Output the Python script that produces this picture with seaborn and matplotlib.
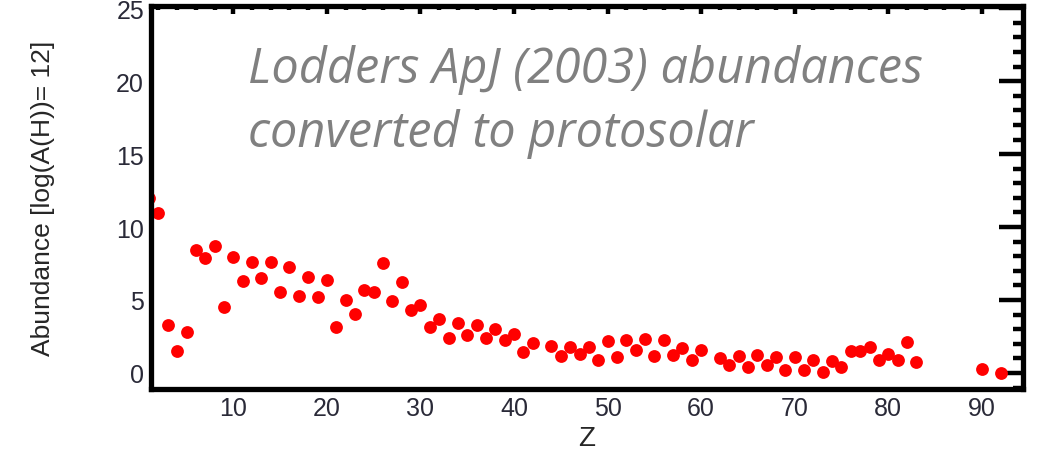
import numpy as np
import pandas as pd
import matplotlib
matplotlib.use("Agg")
import matplotlib.pyplot as plt
from matplotlib.ticker import MultipleLocator
import seaborn as sns

# Protosolar abundances (log eps, H = 12)
z = [1, 2, 3, 4, 5, 6, 7, 8, 9, 10,
     11, 12, 13, 14, 15, 16, 17, 18, 19, 20,
     21, 22, 23, 24, 25, 26, 27, 28, 29, 30,
     31, 32, 33, 34, 35, 36, 37, 38, 39, 40,
     41, 42, 44, 45, 46, 47, 48, 49, 50,
     51, 52, 53, 54, 55, 56, 57, 58, 59, 60,
     62, 63, 64, 65, 66, 67, 68, 69, 70,
     71, 72, 73, 74, 75, 76, 77, 78, 79, 80,
     81, 82, 83, 90, 92]
abundance = [12.0, 10.94, 3.31, 1.49, 2.83, 8.42, 7.85, 8.72, 4.50, 7.92,
             6.32, 7.58, 6.50, 7.58, 5.53, 7.24, 5.30, 6.60, 5.18, 6.37,
             3.13, 5.00, 4.04, 5.71, 5.53, 7.51, 4.95, 6.25, 4.32, 4.68,
             3.17, 3.70, 2.37, 3.40, 2.63, 3.31, 2.40, 3.01, 2.26, 2.67,
             1.46, 2.03, 1.87, 1.14, 1.80, 1.30, 1.80, 0.89, 2.17,
             1.12, 2.28, 1.60, 2.33, 1.19, 2.26, 1.23, 1.69, 0.89, 1.58,
             1.00, 0.57, 1.19, 0.39, 1.23, 0.57, 1.07, 0.23, 1.07,
             0.23, 0.89, 0.05, 0.80, 0.39, 1.49, 1.49, 1.76, 0.91, 1.30,
             0.91, 2.10, 0.77, 0.25, 0.00]

note_lines = ["Lodders ApJ (2003) abundances", "converted to protosolar"]

df = pd.DataFrame({"Z": z, "abundance": abundance})

sns.set_style("white")
plt.rcParams["font.family"] = ["Liberation Sans", "DejaVu Sans"]

fig = plt.figure(figsize=(10.47, 4.52), dpi=100)
ax = fig.add_axes([151 / 1047, 1 - 390 / 452, (1023 - 151) / 1047, (390 - 7) / 452])

sns.scatterplot(data=df, x="Z", y="abundance", ax=ax, color="#ff0000",
                s=85, linewidth=0, legend=False)

ax.set_xlim(1.2, 94.4)
ax.set_ylim(-1.1, 25.15)

ax.xaxis.set_major_locator(MultipleLocator(10))
ax.xaxis.set_minor_locator(MultipleLocator(2))
ax.yaxis.set_major_locator(MultipleLocator(5))
ax.yaxis.set_minor_locator(MultipleLocator(1))

tick_color = "#2a2a38"
ax.tick_params(axis="both", which="both", direction="in", color="black",
               width=3.2, top=True, right=True, labelcolor=tick_color,
               labelsize=18)
ax.tick_params(axis="x", which="major", length=6, pad=5)
ax.tick_params(axis="x", which="minor", length=3)
ax.tick_params(axis="y", which="major", length=17.3, pad=5)
ax.tick_params(axis="y", which="minor", length=7.2)

for sp in ax.spines.values():
    sp.set_linewidth(3.8)
    sp.set_color("black")

ax.set_xlabel("Z", fontsize=20, labelpad=4)
ax.set_ylabel("Abundance [log(A(H))= 12]", fontsize=19, labelpad=44)

fig.text(248 / 1047, 1 - 83 / 452, note_lines[0], fontsize=35,
         family="Open Sans", style="italic", color="#808080", va="baseline")
fig.text(248 / 1047, 1 - 147 / 452, note_lines[1], fontsize=35,
         family="Open Sans", style="italic", color="#808080", va="baseline")

fig.savefig("out.png", dpi=100)
